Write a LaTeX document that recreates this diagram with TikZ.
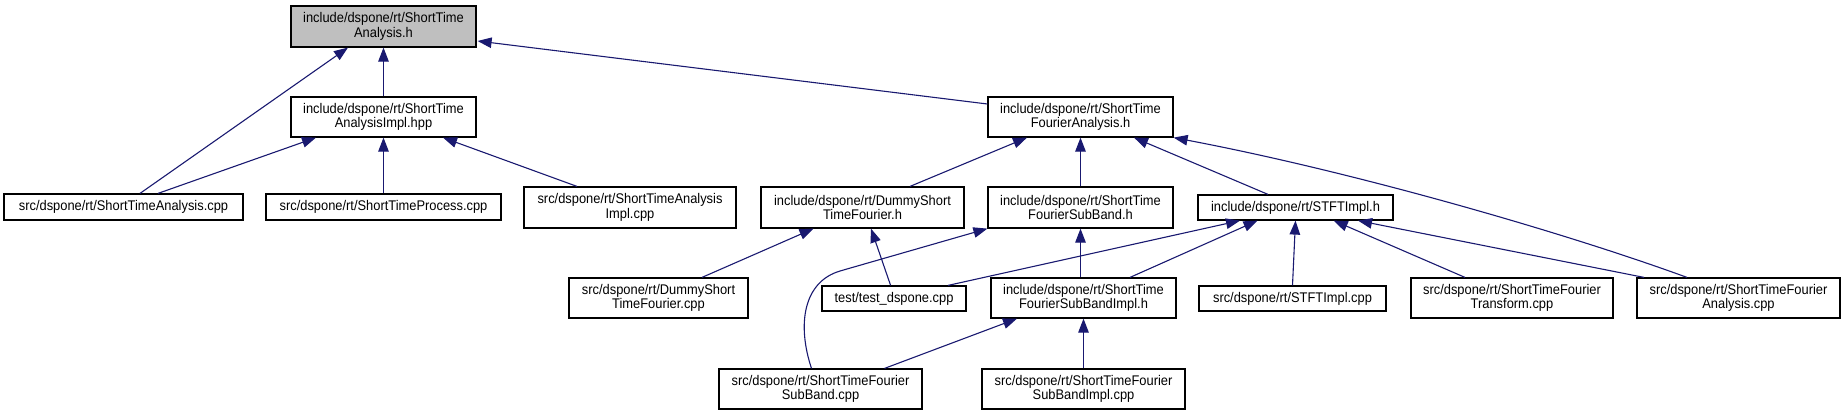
\documentclass[tikz,border=0pt]{standalone}
\usepackage{fontspec}
\setmainfont{Liberation Sans}[FakeStretch=0.92]
\usetikzlibrary{arrows.meta,calc}
\definecolor{edgeblue}{HTML}{191970}
\definecolor{rootgray}{HTML}{BFBFBF}
\tikzset{
  box/.style={draw=black,line width=1.2pt,fill=white,inner sep=0pt,align=center,
    font=\fontsize{14}{14.5}\selectfont},
  edge/.style={draw=edgeblue,line width=1.1pt,-{Triangle[length=14pt,width=10.5pt]}},
}
\begin{document}
\begin{tikzpicture}[x=1pt,y=-1pt]
\useasboundingbox (0,0) rectangle (1845,416);
% row 1
\node[box,fill=rootgray,minimum width=185pt,minimum height=41pt] (root) at (383.5,26.5) {include/dspone/rt/ShortTime\\Analysis.h};
% row 2
\node[box,minimum width=185pt,minimum height=40pt] (aihpp) at (383.5,117) {include/dspone/rt/ShortTime\\AnalysisImpl.hpp};
\node[box,minimum width=185pt,minimum height=40pt] (fah) at (1080.5,117) {include/dspone/rt/ShortTime\\FourierAnalysis.h};
% row 3
\node[box,minimum width=239pt,minimum height=26pt] (sacpp) at (123.5,207) {src/dspone/rt/ShortTimeAnalysis.cpp};
\node[box,minimum width=235pt,minimum height=26pt] (spcpp) at (383.5,207) {src/dspone/rt/ShortTimeProcess.cpp};
\node[box,minimum width=212pt,minimum height=41pt] (saicpp) at (630,207.5) {src/dspone/rt/ShortTimeAnalysis\\Impl.cpp};
\node[box,minimum width=203pt,minimum height=41pt] (dstfh) at (862.5,207.5) {include/dspone/rt/DummyShort\\TimeFourier.h};
\node[box,minimum width=185pt,minimum height=41pt] (sbh) at (1080.5,207.5) {include/dspone/rt/ShortTime\\FourierSubBand.h};
\node[box,minimum width=195pt,minimum height=25pt] (stfth) at (1295.5,207.5) {include/dspone/rt/STFTImpl.h};
% row 4
\node[box,minimum width=179pt,minimum height=40pt] (dstfcpp) at (658.5,298) {src/dspone/rt/DummyShort\\TimeFourier.cpp};
\node[box,minimum width=144pt,minimum height=25pt] (test) at (894,298.5) {test/test\_dspone.cpp};
\node[box,minimum width=185pt,minimum height=40pt] (sbih) at (1083.5,298) {include/dspone/rt/ShortTime\\FourierSubBandImpl.h};
\node[box,minimum width=187pt,minimum height=25pt] (stftcpp) at (1292.5,298.5) {src/dspone/rt/STFTImpl.cpp};
\node[box,minimum width=202pt,minimum height=40pt] (stftr) at (1512,298) {src/dspone/rt/ShortTimeFourier\\Transform.cpp};
\node[box,minimum width=203pt,minimum height=40pt] (facpp) at (1738.5,298) {src/dspone/rt/ShortTimeFourier\\Analysis.cpp};
% row 5
\node[box,minimum width=203pt,minimum height=40pt] (sbcpp) at (820.5,389) {src/dspone/rt/ShortTimeFourier\\SubBand.cpp};
\node[box,minimum width=203pt,minimum height=40pt] (sbicpp) at (1083.5,389) {src/dspone/rt/ShortTimeFourier\\SubBandImpl.cpp};
% edges
\draw[edge] ($(sacpp.north)+(16.5,0)$) -- ($(root.south)+(-35.5,0)$);
\draw[edge] (aihpp.north) -- (root.south);
\draw[edge] ($(fah.west)+(0,-13)$) -- ($(root.east)+(1,14.5)$);
\draw[edge] ($(sacpp.north)+(34.5,0)$) -- ($(aihpp.south)+(-67.5,0)$);
\draw[edge] (spcpp.north) -- (aihpp.south);
\draw[edge] ($(saicpp.north)+(-53,0)$) -- ($(aihpp.south)+(59.5,0)$);
\draw[edge] ($(dstfh.north)+(47.5,0)$) -- ($(fah.south)+(-53.5,0)$);
\draw[edge] (sbh.north) -- (fah.south);
\draw[edge] ($(stfth.north)+(-27.5,0)$) -- ($(fah.south)+(53.5,0)$);
\draw[edge] ($(facpp.north)+(-51.5,0)$) .. controls (1560,231) and (1350,171) .. (fah.south east);
\draw[edge] ($(dstfcpp.north)+(43.5,0)$) -- ($(dstfh.south)+(-49,0)$);
\draw[edge] ($(test.north)+(-3.4,0)$) -- ($(dstfh.south)+(8.5,0)$);
\draw[edge] ($(sbcpp.north)+(-9,0)$) .. controls (797,325) and (803,282) .. (840,271) -- (sbh.south west);
\draw[edge] (sbh.south |- sbih.north) -- (sbh.south);
\draw[edge] ($(test.north)+(54,0)$) -- ($(stfth.south)+(-55.5,0)$);
\draw[edge] ($(sbih.north)+(46.5,0)$) -- ($(stfth.south)+(-38,0)$);
\draw[edge] (stftcpp.north) -- (stfth.south);
\draw[edge] ($(stftr.north)+(-47,0)$) -- ($(stfth.south)+(38.2,0)$);
\draw[edge] ($(facpp.north)+(-94.5,0)$) -- ($(stfth.south)+(62.5,0)$);
\draw[edge] ($(sbcpp.north)+(64,0)$) -- ($(sbih.south)+(-66.5,0)$);
\draw[edge] (sbicpp.north) -- (sbih.south);
\end{tikzpicture}
\end{document}
